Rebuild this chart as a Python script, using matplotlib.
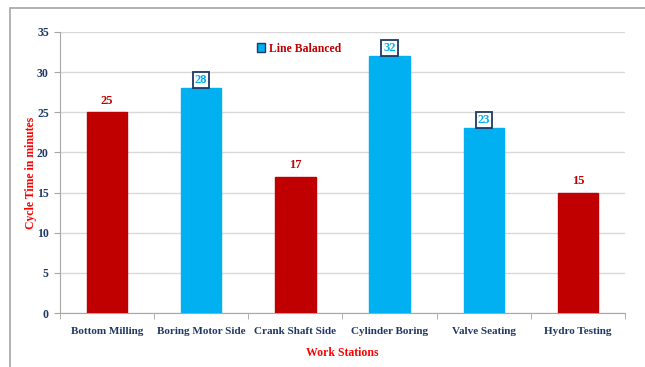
import matplotlib.pyplot as plt
from matplotlib.patches import Rectangle, Patch

# Data
stations = ['Bottom Milling', 'Boring Motor Side', 'Crank Shaft Side',
            'Cylinder Boring', 'Valve Seating', 'Hydro Testing']
cycle_times = [25, 28, 17, 32, 23, 15]
balanced = [False, True, False, True, True, False]

RED = '#C00000'
BLUE = '#00B0F0'
NAVY = '#1F3864'

plt.rcParams['font.family'] = ['Liberation Serif', 'DejaVu Serif']

fig = plt.figure(figsize=(6.45, 3.67), dpi=100)
ax = fig.add_axes([0.093, 0.147, 0.876, 0.766])

# Outer chart border
fig.patches.append(Rectangle((0.016, -0.02), 1.0, 0.998, transform=fig.transFigure,
                             fill=False, edgecolor='#a6a6a6', linewidth=1.2))

x = list(range(len(stations)))
colors = [BLUE if b else RED for b in balanced]
ax.bar(x, cycle_times, width=0.43, color=colors, edgecolor=colors, zorder=3)

for xi, v, b in zip(x, cycle_times, balanced):
    if b:
        ax.text(xi, v + 1.0, str(v), ha='center', va='center', fontsize=9,
                fontweight='bold', color=BLUE, zorder=4,
                bbox=dict(boxstyle='square,pad=0.15', fc='white', ec=NAVY, lw=1.3))
    else:
        ax.text(xi, v + 0.7, str(v), ha='center', va='bottom', fontsize=9,
                fontweight='bold', color=RED, zorder=4)

ax.set_xlim(-0.5, len(stations) - 0.5)
ax.set_ylim(0, 35)
ax.set_yticks(range(0, 36, 5))
ax.set_xticks(x)
ax.set_xticklabels(stations)
ax.set_xticks([i + 0.5 for i in range(-1, len(stations))], minor=True)
ax.tick_params(axis='x', which='major', length=0, pad=10)
ax.tick_params(axis='x', which='minor', length=4, color='#a6a6a6')
ax.tick_params(axis='y', length=4, color='#a6a6a6', pad=4)
for lbl in ax.get_xticklabels():
    lbl.set_fontsize(8)
    lbl.set_fontweight('bold')
    lbl.set_color(NAVY)
for lbl in ax.get_yticklabels():
    lbl.set_fontsize(8.5)
    lbl.set_fontweight('bold')
    lbl.set_color(NAVY)

ax.grid(axis='y', color='#d9d9d9', linewidth=1, zorder=0)
for s in ['top', 'right']:
    ax.spines[s].set_visible(False)
ax.spines['left'].set_color('#a6a6a6')
ax.spines['bottom'].set_color('#a6a6a6')

ax.set_ylabel('Cycle Time in minutes', color='#FF0000', fontsize=8.5,
              fontweight='bold')
ax.yaxis.set_label_coords(-0.04, 0.5)
ax.set_xlabel('Work Stations', color='#FF0000', fontsize=8.5,
              fontweight='bold', labelpad=8)

leg = ax.legend(handles=[Patch(facecolor=BLUE, edgecolor=NAVY, label='Line Balanced')],
                loc='upper left', bbox_to_anchor=(0.33, 1.0), frameon=False,
                handlelength=0.7, handleheight=0.7, handletextpad=0.3,
                prop={'weight': 'bold', 'size': 8.5})
for t in leg.get_texts():
    t.set_color(RED)

fig.savefig('out.png', dpi=100)
